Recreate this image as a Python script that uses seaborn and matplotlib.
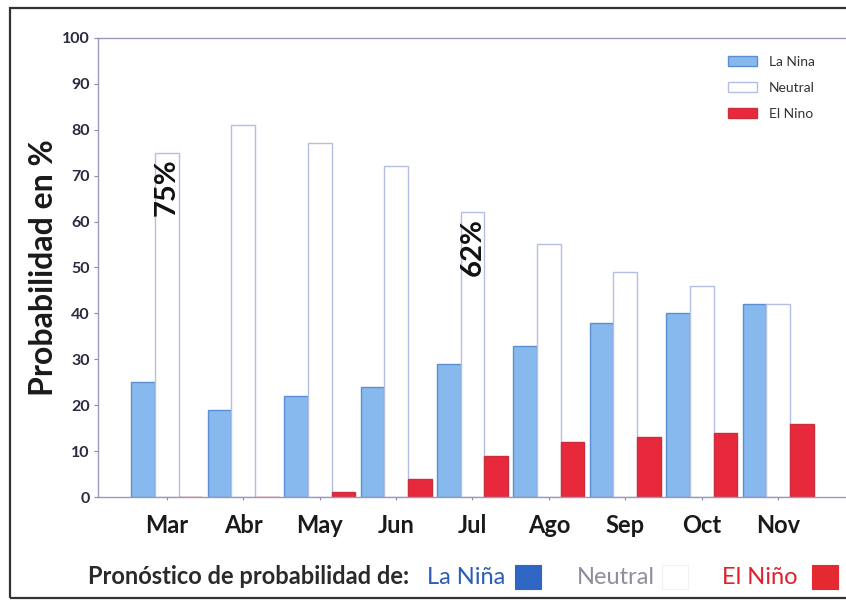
import pandas as pd
import seaborn as sns
import matplotlib.pyplot as plt
from matplotlib.patches import Rectangle

# datos
meses = ['Mar', 'Abr', 'May', 'Jun', 'Jul', 'Ago', 'Sep', 'Oct', 'Nov']
la_nina = [25, 19, 22, 24, 29, 33, 38, 40, 42]
neutral = [75, 81, 77, 72, 62, 55, 49, 46, 42]
el_nino = [0, 0, 1, 4, 9, 12, 13, 14, 16]
series = ['La Nina', 'Neutral', 'El Nino']
etiquetas = {'Mar': '75%', 'Jul': '62%'}

df = pd.DataFrame({'mes': meses, 'La Nina': la_nina, 'Neutral': neutral, 'El Nino': el_nino})
df_melted = df.melt(id_vars='mes', value_vars=series, var_name='Escenario', value_name='Prob')

sns.set_style('white')
plt.rcParams['font.family'] = ['Lato', 'DejaVu Sans']

caras = {'La Nina': '#88b9ee', 'Neutral': '#ffffff', 'El Nino': '#e8293b'}
bordes = {'La Nina': '#5a8fd2', 'Neutral': '#b4bde2', 'El Nino': '#c8303e'}

fig = plt.figure(figsize=(8.46, 6.01), dpi=100)
ax = fig.add_axes([0.116, 0.173, 0.894, 0.764])

sns.barplot(data=df_melted, x='mes', y='Prob', hue='Escenario', hue_order=series,
            palette=caras, saturation=1, width=0.93, gap=0, ax=ax, legend=True)

for cont, nombre in zip(ax.containers, series):
    for p in cont:
        p.set_edgecolor(bordes[nombre])
        p.set_linewidth(1.0)

ax.set_ylim(0, 100)
ax.set_xlim(-0.9, 9.0)
ax.set_yticks(range(0, 101, 10))
ax.tick_params(axis='y', labelsize=11.5, labelcolor='#2a2a40', left=True, length=3,
               color='#8888aa', pad=3)
ax.tick_params(axis='x', labelsize=17, pad=10, bottom=True, length=2, color='#8888aa')
for t in ax.get_yticklabels():
    t.set_fontweight('bold')
for t in ax.get_xticklabels():
    t.set_fontweight('bold')
    t.set_color('#1a1a1a')
ax.set_xlabel('')
ax.set_ylabel('Probabilidad en %', fontsize=23, fontweight='bold', color='#1a1a1a', labelpad=3)
for s in ['left', 'top', 'bottom']:
    ax.spines[s].set_color('#9a9ab8')
    ax.spines[s].set_linewidth(1.0)
ax.spines['right'].set_visible(False)

# porcentajes rotados
for mes, txt in etiquetas.items():
    i = meses.index(mes)
    ax.text(i, neutral[i] - 1.2, txt, rotation=90, ha='center', va='top',
            fontsize=21, fontweight='bold', color='#111111')

leg = ax.legend(loc='upper left', bbox_to_anchor=(722 / 846, 1 - 50 / 601),
                bbox_transform=fig.transFigure, borderaxespad=0, frameon=False, fontsize=10,
                handlelength=2.1, handleheight=0.8, labelspacing=1.0, handletextpad=0.9)
for h, nombre in zip(leg.legend_handles, series):
    h.set_edgecolor(bordes[nombre])
    h.set_linewidth(1.0)
for t in leg.get_texts():
    t.set_color('#333333')

# leyenda inferior
y0 = 1 - 577 / 601
fs = 17
fig.text(88 / 846, y0, 'Pronóstico de probabilidad de:', fontsize=fs, fontweight='bold',
         color='#2a2a2a', va='center')
fig.text(427 / 846, y0, 'La Niña', fontsize=fs, color='#2b5db5', va='center')
fig.text(577 / 846, y0, 'Neutral', fontsize=fs, color='#8e8e9e', va='center')
fig.text(722 / 846, y0, 'El Niño', fontsize=fs, color='#e0202e', va='center')
cuadros = [(515, '#2f66c4', '#2f66c4'), (662, '#ffffff', '#f2f2f2'), (812, '#e42a30', '#e42a30')]
for xp, fc, ec in cuadros:
    fig.patches.append(Rectangle((xp / 846, y0 - 12 / 601), 26 / 846, 24 / 601,
                                 transform=fig.transFigure, facecolor=fc, edgecolor=ec, lw=0.8))

# marco exterior
fig.patches.append(Rectangle((10 / 846, 3 / 601), 0.99, 1 - 11 / 601, transform=fig.transFigure,
                             facecolor='none', edgecolor='#333333', lw=1.6))

plt.savefig('out.png', dpi=100)
